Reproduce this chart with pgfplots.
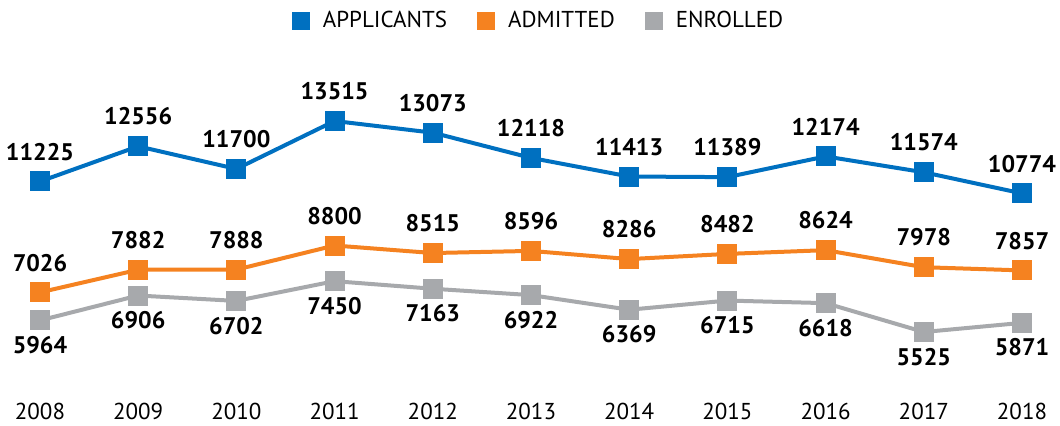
\documentclass[border=0pt]{standalone}
\usepackage{fontspec}
\setmainfont{PT Sans}
\usepackage{pgfplots}
\pgfplotsset{compat=1.18}

\definecolor{appblue}{HTML}{0070C0}
\definecolor{admorange}{HTML}{F58220}
\definecolor{enrgray}{HTML}{A7A9AC}

\begin{document}
\begin{tikzpicture}
\begin{axis}[
    at={(0,0)}, anchor=south west,
    scale only axis,
    width=530pt, height=212.5pt,
    xmin=2007.593, xmax=2018.387,
    ymin=2003, ymax=18097,
    axis line style={draw=none},
    major tick length=0pt,
    ytick=\empty,
    xtick={2008,2009,2010,2011,2012,2013,2014,2015,2016,2017,2018},
    xticklabels={2008,2009,2010,2011,2012,2013,2014,2015,2016,2017,2018},
    xticklabel style={font=\fontsize{11.5}{13}\selectfont, anchor=base, inner sep=0pt, yshift=3pt},
    clip=false,
    legend columns=3,
    legend style={draw=none, fill=none, at={(rel axis cs:0.509,0.95)}, anchor=center,
        font=\fontsize{11.5}{13}\selectfont,
        /tikz/every odd column/.append style={column sep=4.5pt},
        /tikz/every even column/.append style={column sep=13pt}},
    legend image code/.code={\fill[#1] (0pt,-3.5pt) rectangle (7pt,3.5pt);},
    nodes near coords={\pgfmathprintnumber[fixed,precision=0,1000 sep={},assume math mode=true]{\pgfplotspointmeta}},
    every node near coord/.append style={font=\fontsize{12}{14}\selectfont\bfseries, text=black, inner sep=0pt},
    every axis plot/.append style={line width=2pt, mark=square*, mark size=4pt, mark options={solid}},
]

% applicants
\addplot[color=appblue, nodes near coords align={above},
    every node near coord/.append style={yshift=9.5pt}] coordinates {
    (2008,11225) (2009,12556) (2010,11700) (2011,13515) (2012,13073) (2013,12118)
    (2014,11413) (2015,11389) (2016,12174) (2017,11574) (2018,10774)
};
\addlegendentry{APPLICANTS}

% admitted
\addplot[color=admorange, nodes near coords align={above},
    every node near coord/.append style={yshift=9.5pt}] coordinates {
    (2008,7026) (2009,7882) (2010,7888) (2011,8800) (2012,8515) (2013,8596)
    (2014,8286) (2015,8482) (2016,8624) (2017,7978) (2018,7857)
};
\addlegendentry{ADMITTED}

% enrolled
\addplot[color=enrgray, nodes near coords align={below},
    every node near coord/.append style={yshift=-7pt}] coordinates {
    (2008,5964) (2009,6906) (2010,6702) (2011,7450) (2012,7163) (2013,6922)
    (2014,6369) (2015,6715) (2016,6618) (2017,5525) (2018,5871)
};
\addlegendentry{ENROLLED}

\end{axis}
\pgfresetboundingbox
\path (0,0) rectangle (530pt,212.5pt);
\end{tikzpicture}
\end{document}
